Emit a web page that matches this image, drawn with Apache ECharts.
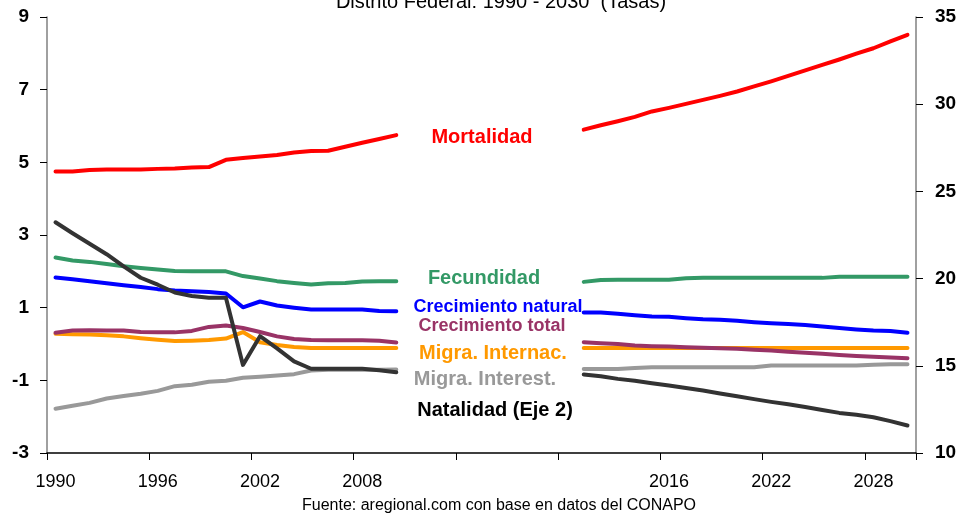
<!DOCTYPE html>
<html>
<head>
<meta charset="utf-8">
<script src="https://cdn.jsdelivr.net/npm/echarts@6/dist/echarts.min.js"></script>
<style>
  html, body { margin: 0; padding: 0; background: #fff; }
  #main { width: 962px; height: 514px; }
</style>
</head>
<body>
<div id="main"></div>
<script>
// years 1990-2010, then an empty stretch, then 2011-2030 (as in the original sheet)
var years = ['1990','1991','1992','1993','1994','1995','1996','1997','1998','1999','2000',
  '2001','2002','2003','2004','2005','2006','2007','2008','2009','2010',
  '','','','','','','','','','',
  '2011','2012','2013','2014','2015','2016','2017','2018','2019','2020',
  '2021','2022','2023','2024','2025','2026','2027','2028','2029','2030'];

var N = null;
var mortalidad = [4.75,4.75,4.79,4.80,4.80,4.80,4.82,4.83,4.86,4.87,5.07,5.12,5.16,5.20,5.27,5.31,5.32,5.43,5.54,5.64,5.75,
  N,N,N,N,N,N,N,N,N,N,
  5.90,6.02,6.13,6.25,6.40,6.50,6.61,6.72,6.83,6.95,7.09,7.23,7.38,7.53,7.68,7.83,7.99,8.14,8.33,8.51];
var fecundidad = [2.38,2.30,2.26,2.20,2.14,2.09,2.05,2.01,2.00,2.00,2.00,1.87,1.80,1.73,1.68,1.64,1.67,1.68,1.72,1.73,1.73,
  N,N,N,N,N,N,N,N,N,N,
  1.71,1.76,1.77,1.77,1.77,1.77,1.81,1.82,1.82,1.82,1.82,1.82,1.82,1.82,1.82,1.85,1.85,1.85,1.85,1.85];
var crecNatural = [1.83,1.78,1.73,1.67,1.62,1.57,1.51,1.47,1.45,1.43,1.39,1.01,1.17,1.06,1.00,0.95,0.95,0.95,0.95,0.91,0.90,
  N,N,N,N,N,N,N,N,N,N,
  0.87,0.87,0.83,0.79,0.76,0.75,0.71,0.68,0.67,0.64,0.60,0.57,0.55,0.52,0.48,0.44,0.40,0.37,0.36,0.31];
var crecTotal = [0.31,0.37,0.38,0.37,0.37,0.33,0.32,0.32,0.36,0.47,0.51,0.44,0.33,0.21,0.14,0.11,0.10,0.10,0.10,0.09,0.04,
  N,N,N,N,N,N,N,N,N,N,
  0.05,0.02,0.00,-0.04,-0.06,-0.07,-0.09,-0.10,-0.12,-0.13,-0.16,-0.18,-0.21,-0.24,-0.27,-0.30,-0.33,-0.35,-0.37,-0.39];
var migraInternac = [0.28,0.27,0.26,0.24,0.21,0.16,0.12,0.08,0.09,0.11,0.15,0.33,0.05,-0.03,-0.08,-0.11,-0.11,-0.11,-0.11,-0.11,-0.11,
  N,N,N,N,N,N,N,N,N,N,
  -0.11,-0.11,-0.11,-0.11,-0.11,-0.11,-0.11,-0.11,-0.11,-0.11,-0.11,-0.11,-0.11,-0.11,-0.11,-0.11,-0.11,-0.11,-0.11,-0.11];
var migraInterest = [-1.78,-1.70,-1.62,-1.50,-1.43,-1.37,-1.29,-1.16,-1.12,-1.04,-1.01,-0.93,-0.90,-0.87,-0.83,-0.73,-0.71,-0.71,-0.71,-0.71,-0.70,
  N,N,N,N,N,N,N,N,N,N,
  -0.69,-0.69,-0.69,-0.66,-0.64,-0.64,-0.64,-0.64,-0.64,-0.64,-0.64,-0.59,-0.59,-0.59,-0.59,-0.59,-0.59,-0.57,-0.56,-0.56];
// eje 2
var natalidad = [23.23,22.6,22.0,21.4,20.7,20.05,19.65,19.2,19.0,18.9,18.9,15.05,16.7,16.0,15.25,14.83,14.83,14.83,14.83,14.75,14.63,
  N,N,N,N,N,N,N,N,N,N,
  14.50,14.40,14.25,14.14,14.00,13.87,13.73,13.58,13.41,13.25,13.09,12.93,12.79,12.64,12.47,12.30,12.19,12.05,11.83,11.58];

var leftTicks = [-3, 9, 2];
var rightTicks = [10, 35, 5];

var FONT = 'Liberation Sans, Arial, sans-serif';

function linea(name, data, color, axis) {
  return {
    name: name,
    type: 'line',
    yAxisIndex: axis || 0,
    data: data,
    symbol: 'none',
    connectNulls: false,
    lineStyle: { color: color, width: 4, cap: 'round', join: 'round' },
    itemStyle: { color: color }
  };
}

function etiqueta(text, x, y, color, size) {
  return {
    type: 'text',
    x: x, y: y,
    style: {
      text: text, fill: color,
      font: 'bold ' + size + 'px ' + FONT,
      align: 'center', verticalAlign: 'middle'
    }
  };
}

var chart = echarts.init(document.getElementById('main'));

var option = {
  animation: false,
  backgroundColor: '#fff',
  grid: { left: 47, right: 46, top: 17, bottom: 61 },
  xAxis: {
    type: 'category',
    position: 'bottom',
    data: years,
    boundaryGap: true,
    axisLine: { show: true, onZero: false, lineStyle: { color: '#000', width: 1.5 } },
    axisTick: { show: true, interval: 5, length: 7, lineStyle: { color: '#000', width: 1 } },
    axisLabel: { interval: 5, margin: 20, color: '#000', fontSize: 18, fontFamily: FONT },
    splitLine: { show: false }
  },
  yAxis: [
    {
      type: 'value',
      min: leftTicks[0], max: leftTicks[1], interval: leftTicks[2],
      axisLine: { show: true, lineStyle: { color: '#808080', width: 1.5 } },
      axisTick: { show: true, length: 7, lineStyle: { color: '#000' } },
      axisLabel: { margin: 18, color: '#000', fontSize: 19, fontWeight: 'bold', fontFamily: FONT },
      splitLine: { show: false }
    },
    {
      type: 'value',
      position: 'right',
      min: rightTicks[0], max: rightTicks[1], interval: rightTicks[2],
      axisLine: { show: true, lineStyle: { color: '#808080', width: 1.5 } },
      axisTick: { show: true, length: 7, lineStyle: { color: '#000' } },
      axisLabel: { margin: 19, color: '#000', fontSize: 19, fontWeight: 'bold', fontFamily: FONT },
      splitLine: { show: false }
    }
  ],
  series: [
    linea('Mortalidad', mortalidad, '#ff0000'),
    linea('Fecundidad', fecundidad, '#339966'),
    linea('Migra. Interest.', migraInterest, '#999999'),
    linea('Migra. Internac.', migraInternac, '#ff9900'),
    linea('Crecimiento total', crecTotal, '#993366'),
    linea('Crecimiento natural', crecNatural, '#0000ff'),
    linea('Natalidad (Eje 2)', natalidad, '#333333', 1)
  ],
  graphic: [
    {
      type: 'text', x: 501, y: 12,
      style: { text: 'Distrito Federal: 1990 - 2030  (Tasas)', fill: '#000',
        font: '20px ' + FONT, align: 'center', verticalAlign: 'bottom' }
    },
    {
      type: 'text', x: 499, y: 506,
      style: { text: 'Fuente: aregional.com con base en datos del CONAPO', fill: '#000',
        font: '16px ' + FONT, align: 'center', verticalAlign: 'middle' }
    },
    etiqueta('Mortalidad', 482, 137, '#ff0000', 20),
    etiqueta('Fecundidad', 484, 278, '#339966', 20),
    etiqueta('Crecimiento natural', 498, 307, '#0000ff', 18),
    etiqueta('Crecimiento total', 492, 326, '#993366', 18),
    etiqueta('Migra. Internac.', 493, 353, '#ff9900', 20),
    etiqueta('Migra. Interest.', 485, 379, '#999999', 20),
    etiqueta('Natalidad (Eje 2)', 495, 410, '#000000', 20)
  ]
};

chart.setOption(option);
</script>
</body>
</html>
